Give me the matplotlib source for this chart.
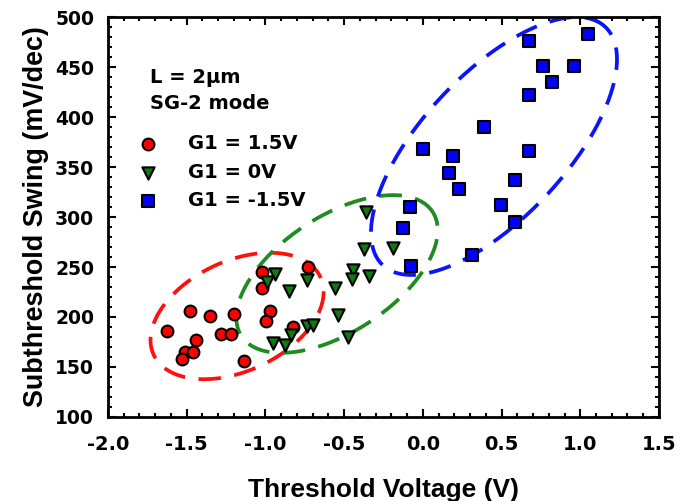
import numpy as np
import matplotlib
matplotlib.use('Agg')
import matplotlib.pyplot as plt
from matplotlib.ticker import MultipleLocator

plt.rcParams['font.family'] = ['Liberation Sans', 'DejaVu Sans']
plt.rcParams['font.weight'] = 'bold'

# G1 = 1.5V
red_v = [-1.024, -1.024, -0.727, -1.479, -1.352, -1.198, -0.973, -0.994, -1.627,
         -1.284, -1.220, -1.443, -0.825, -1.511, -1.458, -1.532, -1.134]
red_s = [245, 229, 250, 206, 201, 203, 206, 196, 186,
         183, 183, 177, 190, 165, 165, 158, 156]

# G1 = 0V
green_v = [-0.363, -0.374, -0.191, -0.441, -0.340, -0.451, -0.558, -0.939, -0.992,
           -0.734, -0.848, -0.537, -0.734, -0.698, -0.837, -0.954, -0.875, -0.473]
green_s = [305, 268, 269, 247, 241, 238, 229, 243, 235,
           237, 226, 202, 191, 192, 182, 174, 172, 180]

# G1 = -1.5V
blue_v = [0.677, 1.048, 0.766, 0.963, 0.819, 0.677, 0.389, 0.000, 0.194, 0.168,
          0.232, 0.677, 0.586, 0.495, 0.586, 0.311, -0.081, -0.128, -0.077]
blue_s = [476, 483, 451, 451, 435, 422, 390, 368, 361, 344,
          328, 366, 337, 312, 295, 262, 310, 289, 251]

# dashed ellipses: centre (V, mV/dec), semi axes in pixels, tilt in degrees
ell_centers = [(-1.18, 201), (-0.545, 243), (0.452, 371)]
ell_axes = [(92, 55), (114, 58), (163, 72)]
ell_angles = [25, 33, 47]
ell_colors = ['#ff1010', '#1e8c1e', '#0a14ff']

TICKFONT = 'DejaVu Sans'


def draw_ellipse(ax, center, axes, angle, color):
    t = np.linspace(0, 2 * np.pi, 400)
    a, b = axes
    th = np.deg2rad(angle)
    dx = a * np.cos(t) * np.cos(th) - b * np.sin(t) * np.sin(th)
    dy = a * np.cos(t) * np.sin(th) + b * np.sin(t) * np.cos(th)
    cx, cy = ax.transData.transform(center)
    pts = ax.transData.inverted().transform(np.column_stack([cx + dx, cy + dy]))
    ax.plot(pts[:, 0], pts[:, 1], color=color, lw=2.7,
            linestyle=(0, (6, 3.6)), zorder=2)


fig = plt.figure(figsize=(6.86, 5.01), dpi=100)
ax = fig.add_axes([0.1574, 0.1677, 0.8032, 0.7983])
ax.set_xlim(-2.0, 1.5)
ax.set_ylim(100, 500)

for c, ab, ang, col in zip(ell_centers, ell_axes, ell_angles, ell_colors):
    draw_ellipse(ax, c, ab, ang, col)

ax.scatter(red_v, red_s, s=72, marker='o', c='#ff0000', edgecolors='black',
           linewidths=1.5, zorder=3, label='G1 = 1.5V')
ax.scatter(green_v, green_s, s=78, marker='v', c='#0f7a0f', edgecolors='black',
           linewidths=1.5, zorder=3, label='G1 = 0V')
ax.scatter(blue_v, blue_s, s=66, marker='s', c='#0000ff', edgecolors='black',
           linewidths=1.5, zorder=3, label='G1 = -1.5V')

ax.xaxis.set_major_locator(MultipleLocator(0.5))
ax.xaxis.set_minor_locator(MultipleLocator(0.1))
ax.yaxis.set_major_locator(MultipleLocator(50))
ax.yaxis.set_minor_locator(MultipleLocator(10))
ax.xaxis.set_major_formatter(plt.FuncFormatter(lambda v, p: '%.1f' % v))
ax.tick_params(which='both', direction='in', top=True, right=True, width=1.5)
ax.tick_params(which='major', length=6, labelsize=14, labelfontfamily=TICKFONT)
ax.tick_params(axis='x', which='major', pad=13)
ax.tick_params(axis='y', which='major', pad=10, labelsize=13.5)
ax.tick_params(which='minor', length=3)
for sp in ax.spines.values():
    sp.set_linewidth(2)

ax.set_xlabel('Threshold Voltage (V)', fontsize=19, fontweight='bold', labelpad=17)
ax.set_ylabel('Subthreshold Swing (mV/dec)', fontsize=19.4, fontweight='bold', labelpad=4)

ax.text(0.076, 0.848, 'L = 2\u03bcm', transform=ax.transAxes, fontsize=14,
        fontweight='bold', va='center', family=TICKFONT)
ax.text(0.076, 0.785, 'SG-2 mode', transform=ax.transAxes, fontsize=14,
        fontweight='bold', va='center', family=TICKFONT)

leg = ax.legend(loc='upper left', bbox_to_anchor=(0.024, 0.727), frameon=False,
                prop={'family': TICKFONT, 'weight': 'bold', 'size': 14},
                handletextpad=1.05, labelspacing=0.5,
                borderaxespad=0, scatterpoints=1)

fig.savefig('out.png', dpi=100)
